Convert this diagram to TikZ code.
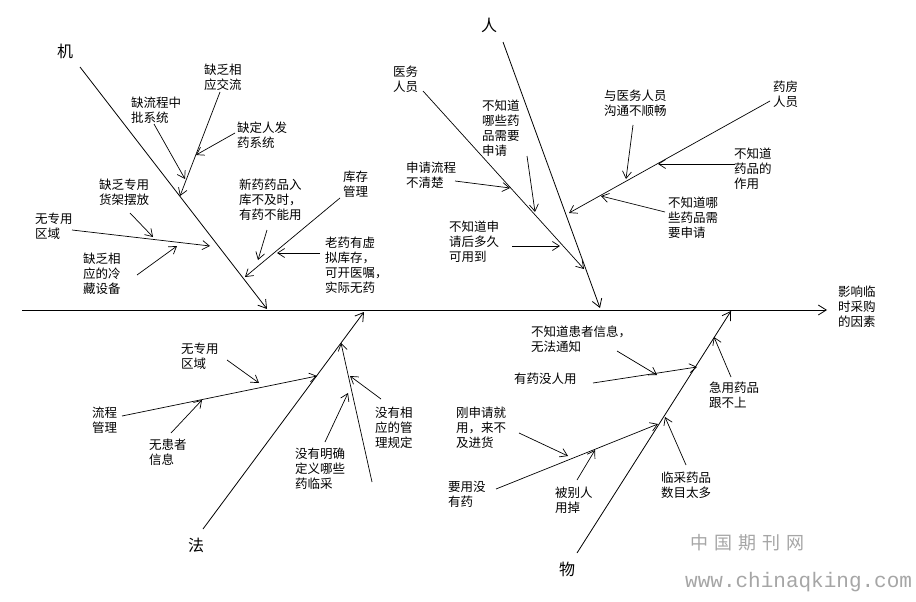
\documentclass[tikz,border=0pt]{standalone}
\usepackage{fontspec}
\setmainfont{Noto Sans CJK SC}
\newfontfamily\wmmono{Liberation Mono}
\usetikzlibrary{arrows.meta}
\begin{document}
\begin{tikzpicture}[x=1pt,y=-1pt,
    bone/.style={line width=0.8pt,-{Straight Barb[length=8pt,width=10pt]}},
    arr/.style={line width=0.7pt,-{Straight Barb[length=7pt,width=9pt]}},
    lbl/.style={anchor=west,align=left,inner sep=0pt,font=\fontsize{12.5}{15}\selectfont},
    cat/.style={inner sep=0pt,font=\fontsize{16}{18}\selectfont},
    wm/.style={anchor=west,inner sep=0pt,text=gray!70}]
      \fill[white] (0,0) rectangle (916,602);
      \useasboundingbox (0,0) rectangle (916,602);
      \coordinate (tail) at (22,310); \coordinate (head) at (827,310);
      \draw[bone] (tail) -- (head);
      \node[lbl] (effect) at (838,307) {影响临\\时采购\\的因素};
      % 机
      \node[cat] (ji) at (65,51) {机};
      \coordinate (jiS) at (80,67); \coordinate (jiE) at (267,309);
      \draw[bone] (jiS) -- (jiE);
      \node[lbl] (jiaoliu) at (204,77.5) {缺乏相\\应交流};
      \coordinate (jlS) at (220,92); \coordinate (jlE) at (180,196);
      \draw[arr] (jlS) -- (jlE);
      \node[lbl] (fayao) at (237,135.5) {缺定人发\\药系统};
      \coordinate (fyS) at (235,133); \coordinate (fyE) at (196,155);
      \draw[arr] (fyS) -- (fyE);
      \node[lbl] (shenpi) at (131,110.5) {缺流程中\\批系统};
      \coordinate (spS) at (154,124); \coordinate (spE) at (185,179);
      \draw[arr] (spS) -- (spE);
      \node[lbl] (huojia) at (99,192.5) {缺乏专用\\货架摆放};
      \coordinate (hjS) at (130,213); \coordinate (hjE) at (153,237);
      \draw[arr] (hjS) -- (hjE);
      \node[lbl] (quyuA) at (35,226) {无专用\\区域};
      \coordinate (qaS) at (72,230); \coordinate (qaE) at (210,246);
      \draw[arr] (qaS) -- (qaE);
      \node[lbl] (lengcang) at (83,274) {缺乏相\\应的冷\\藏设备};
      \coordinate (lcS) at (137,275); \coordinate (lcE) at (177,246);
      \draw[arr] (lcS) -- (lcE);
      \node[lbl] (kucun) at (343,184.5) {库存\\管理};
      \coordinate (kcS) at (340,198); \coordinate (kcE) at (245,277);
      \draw[arr] (kcS) -- (kcE);
      \node[lbl] (xinyao) at (239,200) {新药药品入\\库不及时，\\有药不能用};
      \coordinate (xyS) at (267,230); \coordinate (xyE) at (258,260);
      \draw[arr] (xyS) -- (xyE);
      \node[lbl] (laoyao) at (325,265.5) {老药有虚\\拟库存，\\可开医嘱，\\实际无药};
      \coordinate (lyS) at (320,253); \coordinate (lyE) at (277,253);
      \draw[arr] (lyS) -- (lyE);
      % 人
      \node[cat] (ren) at (489,25) {人};
      \coordinate (renS) at (503,42); \coordinate (renE) at (600,308);
      \draw[bone] (renS) -- (renE);
      \node[lbl] (yiwu) at (393,79.5) {医务\\人员};
      \coordinate (ywS) at (423,91); \coordinate (ywE) at (584,269);
      \draw[arr] (ywS) -- (ywE);
      \node[lbl] (nayaoA) at (482,128) {不知道\\哪些药\\品需要\\申请};
      \coordinate (naS) at (527,156); \coordinate (naE) at (535,212);
      \draw[arr] (naS) -- (naE);
      \node[lbl] (liucheng) at (406,175.5) {申请流程\\不清楚};
      \coordinate (lchS) at (455,181); \coordinate (lchE) at (510,188);
      \draw[arr] (lchS) -- (lchE);
      \node[lbl] (duojiu) at (449,242) {不知道申\\请后多久\\可用到};
      \coordinate (djS) at (512,246); \coordinate (djE) at (560,246);
      \draw[arr] (djS) -- (djE);
      \node[lbl] (yaofang) at (773,94) {药房\\人员};
      \coordinate (yfS) at (770,101); \coordinate (yfE) at (569,213);
      \draw[arr] (yfS) -- (yfE);
      \node[lbl] (goutong) at (604,103.5) {与医务人员\\沟通不顺畅};
      \coordinate (gtS) at (633,125); \coordinate (gtE) at (626,179);
      \draw[arr] (gtS) -- (gtE);
      \node[lbl] (zuoyong) at (734,169) {不知道\\药品的\\作用};
      \coordinate (zyS) at (735,164); \coordinate (zyE) at (658,164);
      \draw[arr] (zyS) -- (zyE);
      \node[lbl] (nayaoB) at (668,218) {不知道哪\\些药品需\\要申请};
      \coordinate (nbS) at (665,212); \coordinate (nbE) at (601,196);
      \draw[arr] (nbS) -- (nbE);
      % 法
      \node[cat] (fa) at (196,545) {法};
      \coordinate (faS) at (203,529); \coordinate (faE) at (364,312);
      \draw[bone] (faS) -- (faE);
      \node[lbl] (guanli) at (92,420) {流程\\管理};
      \coordinate (glS) at (122,416); \coordinate (glE) at (317,376);
      \draw[arr] (glS) -- (glE);
      \node[lbl] (quyuB) at (181,356) {无专用\\区域};
      \coordinate (qbS) at (227,360); \coordinate (qbE) at (259,383);
      \draw[arr] (qbS) -- (qbE);
      \node[lbl] (huanzhe) at (149,452.5) {无患者\\信息};
      \coordinate (hzS) at (171,433); \coordinate (hzE) at (202,400);
      \draw[arr] (hzS) -- (hzE);
      \coordinate (gdS) at (372,482); \coordinate (gdE) at (341,343);
      \draw[arr] (gdS) -- (gdE);
      \node[lbl] (guiding) at (375,428) {没有相\\应的管\\理规定};
      \coordinate (guS) at (381,399); \coordinate (guE) at (350,376);
      \draw[arr] (guS) -- (guE);
      \node[lbl] (dingyi) at (295,469) {没有明确\\定义哪些\\药临采};
      \coordinate (dyS) at (325,442); \coordinate (dyE) at (348,393);
      \draw[arr] (dyS) -- (dyE);
      % 物
      \node[cat] (wu) at (567,569) {物};
      \coordinate (wuS) at (577,553); \coordinate (wuE) at (731,311);
      \draw[bone] (wuS) -- (wuE);
      \node[lbl] (tongzhi) at (531,339.5) {不知道患者信息，\\无法通知};
      \coordinate (tzS) at (617,351); \coordinate (tzE) at (657,375);
      \draw[arr] (tzS) -- (tzE);
      \node[lbl] (meiren) at (514,379) {有药没人用};
      \coordinate (mrS) at (593,383); \coordinate (mrE) at (697,367);
      \draw[arr] (mrS) -- (mrE);
      \node[lbl] (jiyong) at (709,395.5) {急用药品\\跟不上};
      \coordinate (jyS) at (731,377); \coordinate (jyE) at (714,337);
      \draw[arr] (jyS) -- (jyE);
      \node[lbl] (jinhuo) at (456,428) {刚申请就\\用，来不\\及进货};
      \coordinate (jhS) at (519,433); \coordinate (jhE) at (568,456);
      \draw[arr] (jhS) -- (jhE);
      \node[lbl] (meiyao) at (448,494) {要用没\\有药};
      \coordinate (myS) at (496,489); \coordinate (myE) at (658,424);
      \draw[arr] (myS) -- (myE);
      \node[lbl] (yongdiao) at (555,500.5) {被别人\\用掉};
      \coordinate (ydS) at (577,480); \coordinate (ydE) at (595,450);
      \draw[arr] (ydS) -- (ydE);
      \node[lbl] (taiduo) at (661,485.5) {临采药品\\数目太多};
      \coordinate (tdS) at (686,465); \coordinate (tdE) at (665,417);
      \draw[arr] (tdS) -- (tdE);
      \node[wm,font=\fontsize{18}{18}\selectfont] (wmcn) at (690,543) {中\hspace{6pt}国\hspace{6pt}期\hspace{6pt}刊\hspace{6pt}网};
      \node[wm,font=\wmmono\fontsize{21}{21}\selectfont] (wmurl) at (685,582) {www.chinaqking.com};
\end{tikzpicture}
\end{document}
